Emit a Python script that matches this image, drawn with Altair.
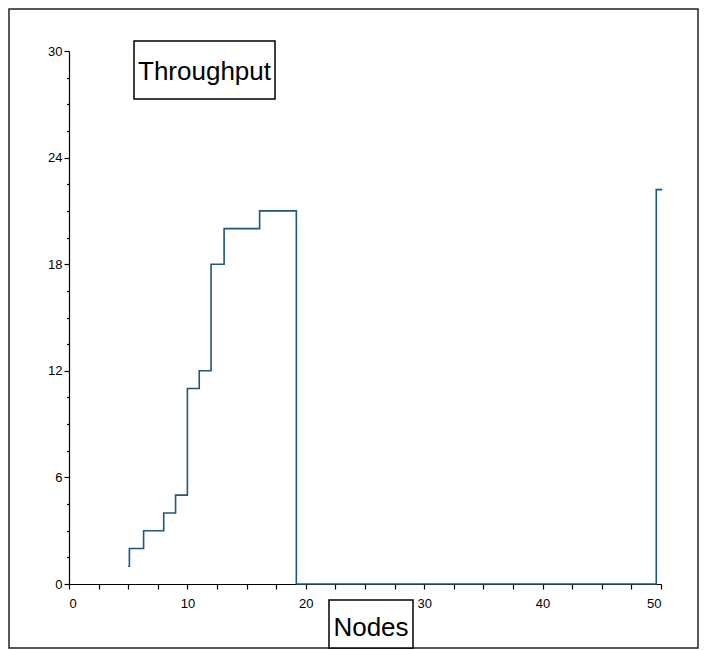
import altair as alt
import pandas as pd

# ---- data ----
nodes = [5.0, 5.1, 6.3, 8.0, 9.0, 10.0, 11.0, 12.0, 13.1, 16.1, 19.2, 49.6, 50.1]
throughput = [1, 2, 3, 4, 5, 11, 12, 18, 20, 21, 0, 22.2, 22.2]

x_ticks = [0, 2.5, 5, 7.5, 10, 12.5, 15, 17.5, 20, 22.5, 25, 27.5, 30, 32.5, 35, 37.5, 40, 42.5, 45, 47.5, 50]
y_ticks = [0, 1.5, 3, 4.5, 6, 7.5, 9, 10.5, 12, 13.5, 15, 16.5, 18, 19.5, 21, 22.5, 24, 25.5, 27, 28.5, 30]

title_text = "Throughput"
xlabel_text = "Nodes"

FONT = "Liberation Sans"

df = pd.DataFrame({"Nodes": nodes, "Throughput": throughput})

line = alt.Chart(df).mark_line(
    interpolate="step-after", color="#1f5582", strokeWidth=1.6
).encode(
    x=alt.X("Nodes:Q",
            scale=alt.Scale(domain=[0, 50], nice=False, zero=True),
            axis=alt.Axis(values=x_ticks, title=None, grid=False,
                          tickSize=5, labelPadding=8, labelOverlap=False,
                          labelExpr="datum.value % 10 == 0 ? datum.label : ''")),
    y=alt.Y("Throughput:Q",
            scale=alt.Scale(domain=[0, 30], nice=False),
            axis=alt.Axis(values=y_ticks, title=None, grid=False,
                          tickSize=alt.condition("datum.value % 6 == 0", alt.value(5), alt.value(2.5)),
                          labelPadding=2, labelOverlap=False,
                          labelExpr="datum.value % 6 == 0 ? datum.label : ''")),
)

deco = alt.Data(values=[{}])

frame = alt.Chart(deco).mark_rect(fill=None, fillOpacity=0, stroke="#222222", strokeWidth=1.5).encode(
    x=alt.value(-60), x2=alt.value(629), y=alt.value(-42), y2=alt.value(597)
)

title_box = alt.Chart(deco).mark_rect(fill="white", stroke="black", strokeWidth=1.5).encode(
    x=alt.value(65), x2=alt.value(206), y=alt.value(-10), y2=alt.value(48)
)
title_txt = alt.Chart(deco).mark_text(font=FONT, fontSize=26, color="black", align="center", baseline="alphabetic").encode(
    x=alt.value(135.5), y=alt.value(29), text=alt.value(title_text)
)

xlab_box = alt.Chart(deco).mark_rect(fill="white", stroke="black", strokeWidth=1.5).encode(
    x=alt.value(260), x2=alt.value(344), y=alt.value(549), y2=alt.value(597)
)
xlab_txt = alt.Chart(deco).mark_text(font=FONT, fontSize=26, color="black", align="center", baseline="alphabetic").encode(
    x=alt.value(302), y=alt.value(585), text=alt.value(xlabel_text)
)

chart = alt.layer(frame, line, title_box, title_txt, xlab_box, xlab_txt).properties(
    width=592, height=533,
    autosize="none",
    padding={"left": 61, "top": 43, "right": 39, "bottom": 66},
).configure_view(stroke=None).configure_axis(
    labelFont=FONT, labelFontSize=13, labelColor="black",
    domainColor="black", tickColor="black", domainWidth=1.2, tickWidth=1.2,
)

chart.save("out.html", embed_options={"renderer": "svg", "actions": False})
